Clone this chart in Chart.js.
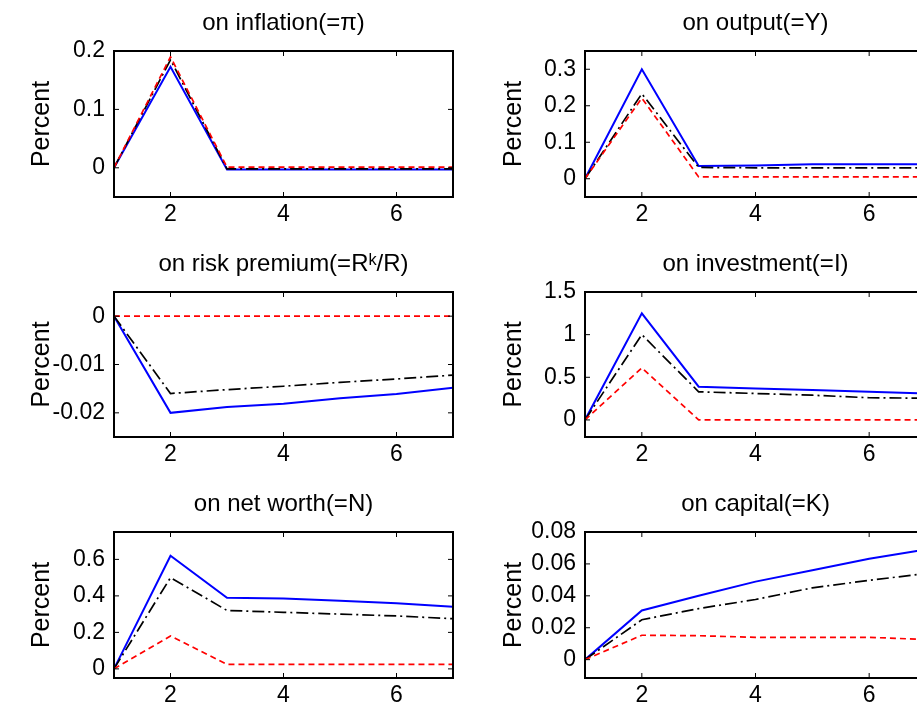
<!DOCTYPE html>
<html><head><meta charset="utf-8">
<script src="https://cdn.jsdelivr.net/npm/chart.js@4.4.1/dist/chart.umd.min.js"></script>
<style>
html,body{margin:0;padding:0;background:#fff;overflow:hidden}
#wrap{position:relative;width:917px;height:711px;overflow:hidden;background:#fff}
canvas{position:absolute}
</style></head><body><div id="wrap"></div>
<script>
// ---- data ----
const steps = [1, 2, 3, 4, 5, 6, 7];
const xTickValues = [2, 4, 6];
const yAxisLabel = 'Percent';

const panelTitles = ['on inflation(=π)', 'on output(=Y)', 'on risk premium(=Rᵏ/R)',
                     'on investment(=I)', 'on net worth(=N)', 'on capital(=K)'];

const inflationBlue  = [0, 0.173, -0.003, -0.003, -0.003, -0.003, -0.003];
const inflationBlack = [0, 0.185, -0.002, -0.002, -0.002, -0.002, -0.002];
const inflationRed   = [0, 0.190, 0.001, 0.001, 0.001, 0.001, 0.001];
const inflationTicks = [0, 0.1, 0.2];
const inflationRange = [-0.05, 0.2];

const outputBlue  = [0, 0.300, 0.035, 0.036, 0.040, 0.040, 0.040];
const outputBlack = [0, 0.233, 0.031, 0.030, 0.030, 0.030, 0.030];
const outputRed   = [0, 0.221, 0.005, 0.005, 0.005, 0.005, 0.005];
const outputTicks = [0, 0.1, 0.2, 0.3];
const outputRange = [-0.05, 0.35];

const riskBlue  = [0, -0.0200, -0.0188, -0.0181, -0.0170, -0.0161, -0.0148];
const riskBlack = [0, -0.0160, -0.0152, -0.0145, -0.0137, -0.0130, -0.0122];
const riskRed   = [0, 0, 0, 0, 0, 0, 0];
const riskTicks = [-0.02, -0.01, 0];
const riskRange = [-0.025, 0.005];

const investBlue  = [0, 1.25, 0.39, 0.37, 0.35, 0.33, 0.31];
const investBlack = [0, 1.00, 0.33, 0.31, 0.29, 0.26, 0.255];
const investRed   = [0, 0.61, 0, 0, 0, 0, 0];
const investTicks = [0, 0.5, 1, 1.5];
const investRange = [-0.2, 1.5];

const worthBlue  = [0, 0.62, 0.39, 0.385, 0.373, 0.36, 0.34];
const worthBlack = [0, 0.50, 0.32, 0.31, 0.30, 0.29, 0.275];
const worthRed   = [0, 0.18, 0.025, 0.025, 0.025, 0.025, 0.025];
const worthTicks = [0, 0.2, 0.4, 0.6];
const worthRange = [-0.05, 0.75];

const capitalBlue  = [0, 0.0308, 0.040, 0.0489, 0.056, 0.0633, 0.069];
const capitalBlack = [0, 0.025, 0.032, 0.0377, 0.045, 0.0497, 0.054];
const capitalRed   = [0, 0.0153, 0.015, 0.014, 0.014, 0.014, 0.0126];
const capitalTicks = [0, 0.02, 0.04, 0.06, 0.08];
const capitalRange = [-0.0115, 0.08];

const panels = [
  {title: panelTitles[0], blue: inflationBlue, black: inflationBlack, red: inflationRed, ticks: inflationTicks, range: inflationRange},
  {title: panelTitles[1], blue: outputBlue, black: outputBlack, red: outputRed, ticks: outputTicks, range: outputRange},
  {title: panelTitles[2], blue: riskBlue, black: riskBlack, red: riskRed, ticks: riskTicks, range: riskRange},
  {title: panelTitles[3], blue: investBlue, black: investBlack, red: investRed, ticks: investTicks, range: investRange},
  {title: panelTitles[4], blue: worthBlue, black: worthBlack, red: worthRed, ticks: worthTicks, range: worthRange},
  {title: panelTitles[5], blue: capitalBlue, black: capitalBlack, red: capitalRed, ticks: capitalTicks, range: capitalRange}
];

// ---- layout (kept separate from data) ----
const TITLE_SIZE = 24, TICK_SIZE = 23, LABEL_SIZE = 25, XAXIS_H = 30;
const LABEL_LH = LABEL_SIZE * 1.2;
const colSpec = [
  {left: 0,   width: 460, axisW: 114, padRight: 7, labelX: 42},
  {left: 460, width: 470, axisW: 125, padRight: 4, labelX: 54}
];
const rowSpec = [
  {top: 0,   plotTop: 51,  plotBottom: 197},
  {top: 236, plotTop: 292, plotBottom: 437},
  {top: 472, plotTop: 532, plotBottom: 678}
];
const FONT = "'Liberation Sans', Arial, Helvetica, sans-serif";

const boxPlugin = {
  id: 'matlabBox',
  afterDatasetsDraw(chart) {
    const {ctx, chartArea: a, scales: {x, y}} = chart;
    ctx.save();
    ctx.strokeStyle = '#000';
    ctx.lineWidth = 1;
    const tl = 5;
    ctx.beginPath();
    x.ticks.forEach(t => {
      const px = x.getPixelForValue(t.value);
      ctx.moveTo(px, a.bottom); ctx.lineTo(px, a.bottom - tl);
      ctx.moveTo(px, a.top); ctx.lineTo(px, a.top + tl);
    });
    y.ticks.forEach(t => {
      const py = y.getPixelForValue(t.value);
      ctx.moveTo(a.left, py); ctx.lineTo(a.left + tl, py);
      ctx.moveTo(a.right, py); ctx.lineTo(a.right - tl, py);
    });
    ctx.stroke();
    ctx.lineWidth = 2;
    ctx.strokeRect(a.left, a.top, a.right - a.left, a.bottom - a.top);
    ctx.restore();
  }
};

const wrap = document.getElementById('wrap');
panels.forEach((p, i) => {
  const col = colSpec[i % 2], row = rowSpec[Math.floor(i / 2)];
  const h = row.plotBottom - row.top + XAXIS_H;
  const cv = document.createElement('canvas');
  cv.width = col.width; cv.height = h;
  cv.style.left = col.left + 'px'; cv.style.top = row.top + 'px';
  cv.style.width = col.width + 'px'; cv.style.height = h + 'px';
  wrap.appendChild(cv);
  const titleLH = TITLE_SIZE * 1.2;
  const padBottom = 28 - titleLH / 2;
  const padTop = row.plotTop - row.top - titleLH - padBottom;
  const mk = arr => steps.map((s, k) => ({x: s, y: arr[k]}));
  new Chart(cv, {
    type: 'line',
    data: {
      datasets: [
        {data: mk(p.red), borderColor: '#ff0000', borderWidth: 1.7, borderDash: [6, 4], pointRadius: 0, tension: 0, order: 0},
        {data: mk(p.black), borderColor: '#000000', borderWidth: 1.7, borderDash: [12, 4, 2, 4], pointRadius: 0, tension: 0, order: 1},
        {data: mk(p.blue), borderColor: '#0000ff', borderWidth: 2, pointRadius: 0, tension: 0, order: 2}
      ]
    },
    options: {
      responsive: false,
      animation: false,
      events: [],
      layout: {padding: {left: 0, right: col.padRight, top: 0, bottom: 0}},
      plugins: {
        legend: {display: false},
        tooltip: {enabled: false},
        title: {
          display: true, text: p.title, fullSize: false, color: '#000',
          font: {family: FONT, size: TITLE_SIZE, weight: 'normal'},
          padding: {top: padTop, bottom: padBottom}
        }
      },
      scales: {
        x: {
          type: 'linear', min: 1, max: 7,
          grid: {display: false, drawTicks: false},
          border: {display: false},
          ticks: {color: '#000', padding: 4, font: {family: FONT, size: TICK_SIZE}, callback: v => String(v), maxRotation: 0},
          afterBuildTicks: s => { s.ticks = xTickValues.map(v => ({value: v})); },
          afterFit: s => { s.height = XAXIS_H; }
        },
        y: {
          type: 'linear', min: p.range[0], max: p.range[1],
          grid: {display: false, drawTicks: false},
          border: {display: false},
          ticks: {color: '#000', padding: 9, font: {family: FONT, size: TICK_SIZE}, callback: v => String(v)},
          title: {display: true, text: yAxisLabel, color: '#000', font: {family: FONT, size: LABEL_SIZE}, padding: {top: col.labelX - LABEL_LH / 2, bottom: 0}},
          afterBuildTicks: s => { s.ticks = p.ticks.map(v => ({value: v})); },
          afterFit: s => { s.width = col.axisW; }
        }
      }
    },
    plugins: [boxPlugin]
  });
});
</script>
</body></html>
